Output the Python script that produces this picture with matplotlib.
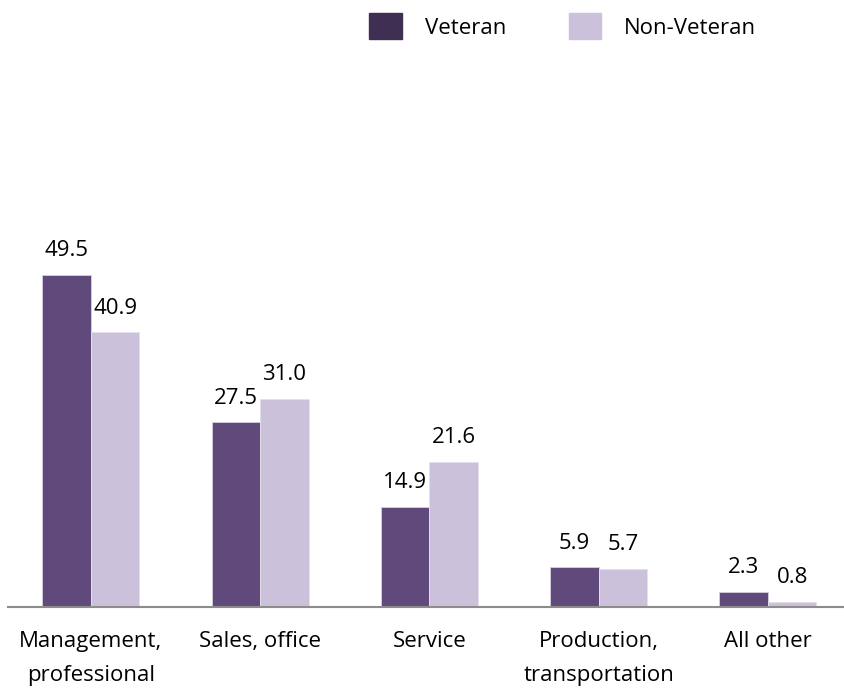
import matplotlib.pyplot as plt
import numpy as np
from matplotlib.patches import Patch

plt.rcParams["font.family"] = ["Open Sans", "DejaVu Sans"]

categories = ["Management,\nprofessional", "Sales, office", "Service",
              "Production,\ntransportation", "All other"]
veteran = [49.5, 27.5, 14.9, 5.9, 2.3]
non_veteran = [40.9, 31.0, 21.6, 5.7, 0.8]

VET_COLOR = "#604a7b"
VET_LEGEND = "#3f3053"
NON_COLOR = "#ccc1da"
FS = 16

fig = plt.figure(figsize=(8.45, 6.88), dpi=100)
ax = fig.add_axes([8 / 845, 1 - 607 / 688, 1 - 8 / 845, 537 / 688])

x = np.arange(len(categories))
w = 0.287
b1 = ax.bar(x - w / 2, veteran, w, color=VET_COLOR, edgecolor="#d8d0e2", linewidth=0.6)
b2 = ax.bar(x + w / 2, non_veteran, w, color=NON_COLOR, edgecolor="#e6e0ee", linewidth=0.6)

for rects, vals in ((b1, veteran), (b2, non_veteran)):
    for r, v in zip(rects, vals):
        ax.annotate(f"{v:.1f}", (r.get_x() + r.get_width() / 2, v),
                    xytext=(0, 10), textcoords="offset points",
                    ha="center", va="bottom", fontsize=FS)

ax.set_xlim(-0.49, 4.456)
ax.set_ylim(0, 80)
ax.set_yticks([])
ax.set_xticks(x)
ax.set_xticklabels(categories, fontsize=FS, linespacing=1.85)
ax.tick_params(axis="x", length=0, pad=17)
for s in ["top", "right", "left"]:
    ax.spines[s].set_visible(False)
ax.spines["bottom"].set_color("#8c8c8c")
ax.spines["bottom"].set_linewidth(1.5)

handles = [Patch(color=VET_LEGEND, label="Veteran"),
           Patch(color=NON_COLOR, label="Non-Veteran")]
fig.legend(handles=handles, loc="center", bbox_to_anchor=(0.666, 0.962), ncol=2,
           frameon=False, fontsize=FS, handlelength=1.45, handleheight=1.45,
           columnspacing=2.8, handletextpad=1.05)

fig.savefig("out.png", dpi=100)
